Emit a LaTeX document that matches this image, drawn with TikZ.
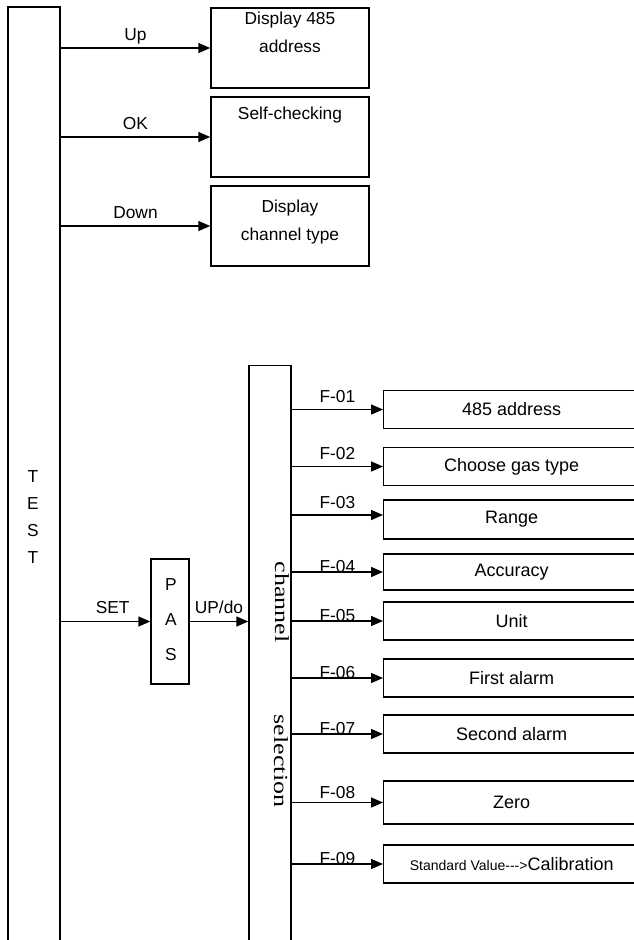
\documentclass[tikz,border=0pt]{standalone}
\usepackage{fontspec}
\usepackage{graphicx}
\setmainfont{Liberation Sans}
\newfontfamily\chanfont{Liberation Serif}
\usetikzlibrary{arrows.meta,positioning}

\begin{document}
\begin{tikzpicture}[x=0.75pt,y=-0.75pt,>={Triangle[length=9pt,width=7.5pt]},font=\fontsize{13}{15}\selectfont,line width=1.1pt,
  box/.style={draw,inner sep=0pt},
  topbox/.style={box,minimum width=118.5pt,minimum height=60pt},
  fbox/.style={box,anchor=west,minimum width=192pt,minimum height=28.5pt,font=\fontsize{13.5}{15}\selectfont},
  lbl/.style={anchor=base,inner sep=0pt}]
\clip (0,0) rectangle (634,940);
% left column and the three display boxes
\node[box,minimum width=39pt,minimum height=715.5pt] (test) at (34,484) {};
\node[align=center,font=\fontsize{13}{20.25}\selectfont] (testtxt) at (33,517) {T\\E\\S\\T};
\node[topbox] (addr) at (290,48) {};
\node[topbox] (selfchk) at (290,137) {};
\node[topbox] (chtype) at (290,226) {};
\node[align=center,font=\fontsize{13}{21}\selectfont] (addrtxt) at (290,32) {Display 485\\address};
\node (selfchktxt) at (290,115) {Self-checking};
\node[align=center,font=\fontsize{13}{21}\selectfont] (chtypetxt) at (290,222) {Display\\channel type};
\draw[->] (addr.west -| test.east) -- node[lbl,midway,yshift=6pt] {Up} (addr.west);
\draw[->] (selfchk.west -| test.east) -- node[lbl,midway,yshift=6pt] {OK} (selfchk.west);
\draw[->] (chtype.west -| test.east) -- node[lbl,midway,yshift=6pt] {Down} (chtype.west);
% password and channel selection
\node[box,minimum width=28.5pt,minimum height=93.75pt] (pas) at (170,621.5) {};
\node[align=center,font=\fontsize{13}{26.25}\selectfont] (pastxt) at (171,620) {P\\A\\S};
\node[box,minimum width=31.5pt,minimum height=446pt] (chan) at (270,663) {};
\node[rotate=-90,font=\chanfont\fontsize{15}{15}\selectfont] (chantxt) at (282,602) {\scalebox{1.3}[1]{channel}};
\node[rotate=-90,font=\chanfont\fontsize{15}{15}\selectfont] (seltxt) at (281,761) {\scalebox{1.3}[1]{selection}};
\draw[->] (pas.west -| test.east) -- node[lbl,pos=0.58,yshift=6pt] {SET} (pas.west);
\draw[->] (pas.east) -- node[lbl,midway,yshift=6pt] {UP/do} (pas.east -| chan.west);
% menu entries
\node[fbox] (f1) at (383,409.5) {485 address};
\node[fbox] (f2) at (383,466.5) {Choose gas type};
\node[fbox,minimum height=29pt] (f3) at (383,519.5) {Range};
\node[fbox,minimum height=27pt] (f4) at (383,572) {Accuracy};
\node[fbox] (f5) at (383,621) {Unit};
\node[fbox] (f6) at (383,678) {First alarm};
\node[fbox] (f7) at (383,734) {Second alarm};
\node[fbox,minimum height=32pt] (f8) at (383,802.5) {Zero};
\node[fbox] (f9) at (383,864) {{\fontsize{10.5}{12}\selectfont Standard Value-\kern0pt-\kern0pt->}Calibration};
\draw[->] (f1.west -| chan.east) -- node[lbl,midway,yshift=5pt] {F-01} (f1.west);
\draw[->] (f2.west -| chan.east) -- node[lbl,midway,yshift=5pt] {F-02} (f2.west);
\draw[->] (chan.east |- 0,515) -- node[lbl,midway,yshift=5pt] {F-03} (f3.west |- 0,515);
\draw[->] (f4.west -| chan.east) -- node[lbl,midway] {F-04} (f4.west);
\draw[->] (f5.west -| chan.east) -- node[lbl,midway] {F-05} (f5.west);
\draw[->] (f6.west -| chan.east) -- node[lbl,midway] {F-06} (f6.west);
\draw[->] (f7.west -| chan.east) -- node[lbl,midway] {F-07} (f7.west);
\draw[->] (f8.west -| chan.east) -- node[lbl,midway,yshift=3pt] {F-08} (f8.west);
\draw[->] (f9.west -| chan.east) -- node[lbl,midway] {F-09} (f9.west);
\end{tikzpicture}
\end{document}
